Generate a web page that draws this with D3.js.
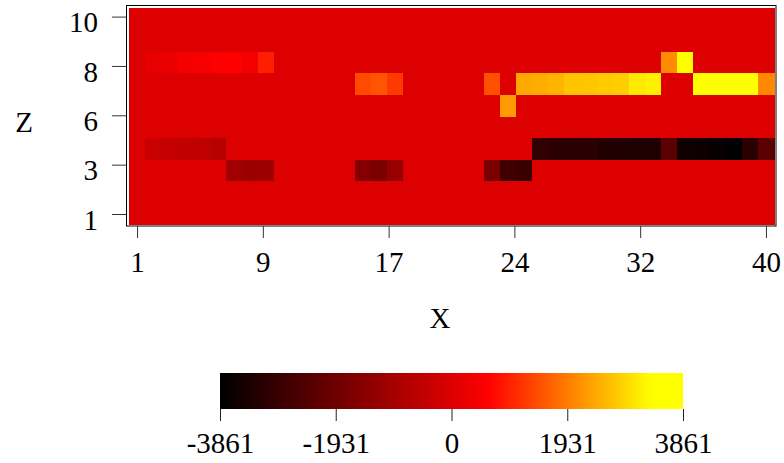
<!DOCTYPE html>
<html>
<head>
<meta charset="utf-8">
<script src="https://cdn.jsdelivr.net/npm/d3@7/dist/d3.min.js"></script>
<style>
  body { margin: 0; background: #fff; }
  svg { display: block; }
  text { font-family: "Liberation Serif", "Times New Roman", serif; fill: #000; }
</style>
</head>
<body>
<svg id="chart" width="784" height="463"></svg>
<script>
// Grid coordinates
const xValues = d3.range(1, 41);
const zValues = d3.range(1, 11);

// Cell values, one array per Z row (X = 1..40)
const z1  = [0,0,0,0,0,0,0,0,0,0, 0,0,0,0,0,0,0,0,0,0, 0,0,0,0,0,0,0,0,0,0, 0,0,0,0,0,0,0,0,0,0];
const z2  = [0,0,0,0,0,0,0,0,0,0, 0,0,0,0,0,0,0,0,0,0, 0,0,0,0,0,0,0,0,0,0, 0,0,0,0,0,0,0,0,0,0];
const z3  = [0,0,0,0,0,0,-1051,-1156,-1121,0, 0,0,0,0,-1542,-1718,-1226,0,0,0, 0,0,-1753,-2737,-2842,0,0,0,0,0, 0,0,0,0,0,0,0,0,0,0];
const z4  = [0,-330,-380,-470,-520,-640,0,0,0,0, 0,0,0,0,0,0,0,0,0,0, 0,0,0,0,0,-2983,-3088,-3158,-3120,-3264, -3299,-3320,-3340,-2280,-3580,-3650,-3760,-3861,-3123,-2280];
const z5  = [0,0,0,0,0,0,0,0,0,0, 0,0,0,0,0,0,0,0,0,0, 0,0,0,0,0,0,0,0,0,0, 0,0,0,0,0,0,0,0,0,0];
const z6  = [0,0,0,0,0,0,0,0,0,0, 0,0,0,0,0,0,0,0,0,0, 0,0,0,2250,0,0,0,0,0,0, 0,0,0,0,0,0,0,0,0,0];
const z7  = [0,0,0,0,0,0,0,0,0,0, 0,0,0,0,1402,1519,1233,0,0,0, 0,0,1466,0,2400,2460,2520,2690,2720,2760, 2800,3090,3160,0,0,3500,3550,3600,3420,2060];
const z8  = [0,214,249,442,495,618,600,425,936,0, 0,0,0,0,0,0,0,0,0,0, 0,0,0,0,0,0,0,0,0,0, 0,0,0,2100,3861,0,0,0,0,0];
const z9  = [0,0,0,0,0,0,0,0,0,0, 0,0,0,0,0,0,0,0,0,0, 0,0,0,0,0,0,0,0,0,0, 0,0,0,0,0,0,0,0,0,0];
const z10 = [0,0,0,0,0,0,0,0,0,0, 0,0,0,0,0,0,0,0,0,0, 0,0,0,0,0,0,0,0,0,0, 0,0,0,0,0,0,0,0,0,0];
const rows = [z1, z2, z3, z4, z5, z6, z7, z8, z9, z10];

// Axis ticks
const xTickValues = [1, 8.8, 16.6, 24.4, 32.2, 40];
const xTickLabels = ["1", "9", "17", "24", "32", "40"];
const zTickValues = [1, 3.25, 5.5, 7.75, 10];
const zTickLabels = ["1", "3", "6", "8", "10"];
const legendTicks = [-3861, -1931, 0, 1931, 3861];
const legendLabels = ["-3861", "-1931", "0", "1931", "3861"];

const cells = [];
rows.forEach((vals, zi) => vals.forEach((v, xi) => cells.push({ x: xValues[xi], z: zValues[zi], v })));

const svg = d3.select("#chart");
const fontSize = 29;

// Scales
const x = d3.scaleLinear().domain([0.5, 40.5]).range([129, 774]);
const y = d3.scaleLinear().domain([0.5, 10.5]).range([224, 8]);
const yAxisScale = d3.scaleLinear().domain([1, 10]).range([214, 16.6]);
const color = d3.scaleLinear()
  .domain([-3861, 618, 3320])
  .range(["#000000", "#ff0000", "#ffff00"])
  .clamp(true);

// Heat cells
svg.append("g")
  .attr("shape-rendering", "crispEdges")
  .selectAll("rect")
  .data(cells)
  .join("rect")
  .attr("x", d => x(d.x - 0.5))
  .attr("y", d => y(d.z + 0.5))
  .attr("width", d => x(d.x + 0.5) - x(d.x - 0.5) + 0.5)
  .attr("height", d => y(d.z - 0.5) - y(d.z + 0.5) + 0.5)
  .attr("fill", d => color(d.v));

// Plot frame
svg.append("rect")
  .attr("x", 126.5).attr("y", 5.5)
  .attr("width", 649.5).attr("height", 220.5)
  .attr("fill", "none").attr("stroke", "#000").attr("stroke-width", 1);

// X axis
const xAxis = svg.append("g")
  .attr("transform", "translate(0,226)")
  .call(d3.axisBottom(x).tickValues(xTickValues).tickFormat((d, i) => xTickLabels[i]).tickSize(12));
xAxis.select(".domain").remove();
xAxis.selectAll(".tick line").attr("stroke", "#333");
xAxis.selectAll(".tick text")
  .attr("y", 36).attr("dy", "0.35em")
  .attr("font-size", fontSize).attr("font-family", null);

// Z axis
const zAxis = svg.append("g")
  .attr("transform", "translate(126,0)")
  .call(d3.axisLeft(yAxisScale).tickValues(zTickValues).tickFormat((d, i) => zTickLabels[i]).tickSize(14));
zAxis.select(".domain").remove();
zAxis.selectAll(".tick line").attr("stroke", "#333");
zAxis.selectAll(".tick text")
  .attr("x", -28).attr("y", 5).attr("dy", "0.35em")
  .attr("font-size", fontSize).attr("font-family", null);

// Axis titles
svg.append("text").attr("x", 440).attr("y", 318).attr("dy", "0.35em")
  .attr("text-anchor", "middle").attr("font-size", fontSize).text("X");
svg.append("text").attr("x", 24).attr("y", 122).attr("dy", "0.35em")
  .attr("text-anchor", "middle").attr("font-size", fontSize).text("Z");

// Colour legend
const lx = d3.scaleLinear().domain([-3861, 3861]).range([220, 683]);
const grad = svg.append("defs").append("linearGradient").attr("id", "legendGrad");
grad.selectAll("stop")
  .data(d3.range(0, 1.0001, 0.02))
  .join("stop")
  .attr("offset", t => t)
  .attr("stop-color", t => color(lx.invert(220 + t * 463)));
svg.append("rect")
  .attr("x", lx(-3861)).attr("y", 373)
  .attr("width", lx(3861) - lx(-3861)).attr("height", 36)
  .attr("fill", "url(#legendGrad)");

const lAxis = svg.append("g")
  .attr("transform", "translate(0,409)")
  .call(d3.axisBottom(lx).tickValues(legendTicks).tickFormat((d, i) => legendLabels[i]).tickSize(12));
lAxis.select(".domain").remove();
lAxis.selectAll(".tick line").attr("stroke", "#222");
lAxis.selectAll(".tick text")
  .attr("y", 34).attr("dy", "0.35em")
  .attr("font-size", fontSize).attr("font-family", null);
</script>
</body>
</html>
